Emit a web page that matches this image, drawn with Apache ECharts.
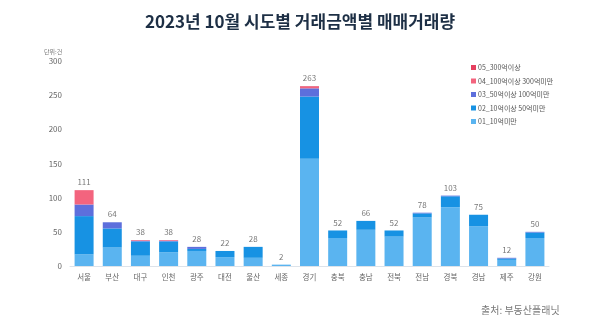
<!DOCTYPE html>
<html>
<head>
<meta charset="utf-8">
<script src="https://cdn.jsdelivr.net/npm/echarts@6/dist/echarts.min.js"></script>
<style>
  html, body { margin: 0; padding: 0; background: #fff; }
  #chart { width: 600px; height: 323px; }
</style>
</head>
<body>
<div id="chart"></div>
<script>
// 시도 (regions)
const regions = ['서울','부산','대구','인천','광주','대전','울산','세종','경기','충북','충남','전북','전남','경북','경남','제주','강원'];

// 거래금액 구간별 매매거래량 (건)
const under10      = [17, 27, 15, 20, 22, 13, 12, 2, 157, 41, 53, 43, 71, 86, 58, 9, 41];
const from10to50   = [56, 28, 21, 16,  3,  9, 16, 0,  91, 11, 13,  9,  6, 16, 17, 2,  8];
const from50to100  = [17,  9,  1,  1,  3,  0,  0, 0,  12,  0,  0,  0,  1,  1,  0, 1,  1];
const from100to300 = [21,  0,  1,  1,  0,  0,  0, 0,   2,  0,  0,  0,  0,  0,  0, 0,  0];
const over300      = [ 0,  0,  0,  0,  0,  0,  0, 0,   1,  0,  0,  0,  0,  0,  0, 0,  0];

const seriesNames = ['01_10억미만','02_10억이상 50억미만','03_50억이상 100억미만','04_100억이상 300억미만','05_300억이상'];
const seriesData = [under10, from10to50, from50to100, from100to300, over300];
const colors = ['#5ab4f0', '#1792e3', '#5d6fdc', '#f3647e', '#e5405f'];

// 지역별 합계
const totals = regions.map((_, i) => seriesData.reduce((s, arr) => s + arr[i], 0));

const font = 'Noto Sans CJK KR';
const chart = echarts.init(document.getElementById('chart'), null, { renderer: 'canvas' });

const barSeries = seriesNames.map((name, k) => ({
  name: name,
  type: 'bar',
  stack: 'total',
  barWidth: 19,
  data: seriesData[k],
  itemStyle: { color: colors[k] },
  emphasis: { disabled: true }
}));

chart.setOption({
  animation: false,
  textStyle: { fontFamily: font },
  title: [
    {
      text: '2023년 10월 시도별 거래금액별 매매거래량',
      left: 'center',
      top: 8,
      textStyle: { fontFamily: font, fontSize: 17, fontWeight: 'bold', color: '#1d2f45' }
    },
    {
      text: '출처: 부동산플래닛',
      left: 476,
      top: 300,
      textStyle: { fontFamily: font, fontSize: 10, fontWeight: 'normal', color: '#7a7a7a' }
    },
    {
      text: '단위:건',
      left: 39,
      top: 44,
      textStyle: { fontFamily: font, fontSize: 6, fontWeight: 'normal', color: '#777' }
    }
  ],
  legend: {
    orient: 'vertical',
    left: 466,
    top: 59,
    itemWidth: 5,
    itemHeight: 5,
    itemGap: 6.5,
    icon: 'rect',
    data: seriesNames.slice().reverse(),
    textStyle: { fontFamily: font, fontSize: 7, color: '#555', padding: [0, 0, 0, -3] }
  },
  grid: { left: 70, right: 51, top: 61, bottom: 57 },
  xAxis: {
    type: 'category',
    data: regions,
    axisTick: { show: false },
    axisLine: { lineStyle: { color: '#dde3ea', width: 1 } },
    axisLabel: { fontFamily: font, fontSize: 7.5, color: '#666', margin: 7 }
  },
  yAxis: {
    type: 'value',
    min: 0,
    max: 300,
    interval: 50,
    splitLine: { show: false },
    axisLine: { show: false },
    axisTick: { show: false },
    axisLabel: { fontFamily: font, fontSize: 8, color: '#666', margin: 8 }
  },
  series: barSeries.concat([{
    name: '합계',
    type: 'scatter',
    data: totals,
    symbolSize: 0,
    silent: true,
    label: {
      show: true,
      position: 'top',
      distance: 4,
      fontFamily: font,
      fontSize: 8,
      color: '#555'
    }
  }])
});
</script>
</body>
</html>
